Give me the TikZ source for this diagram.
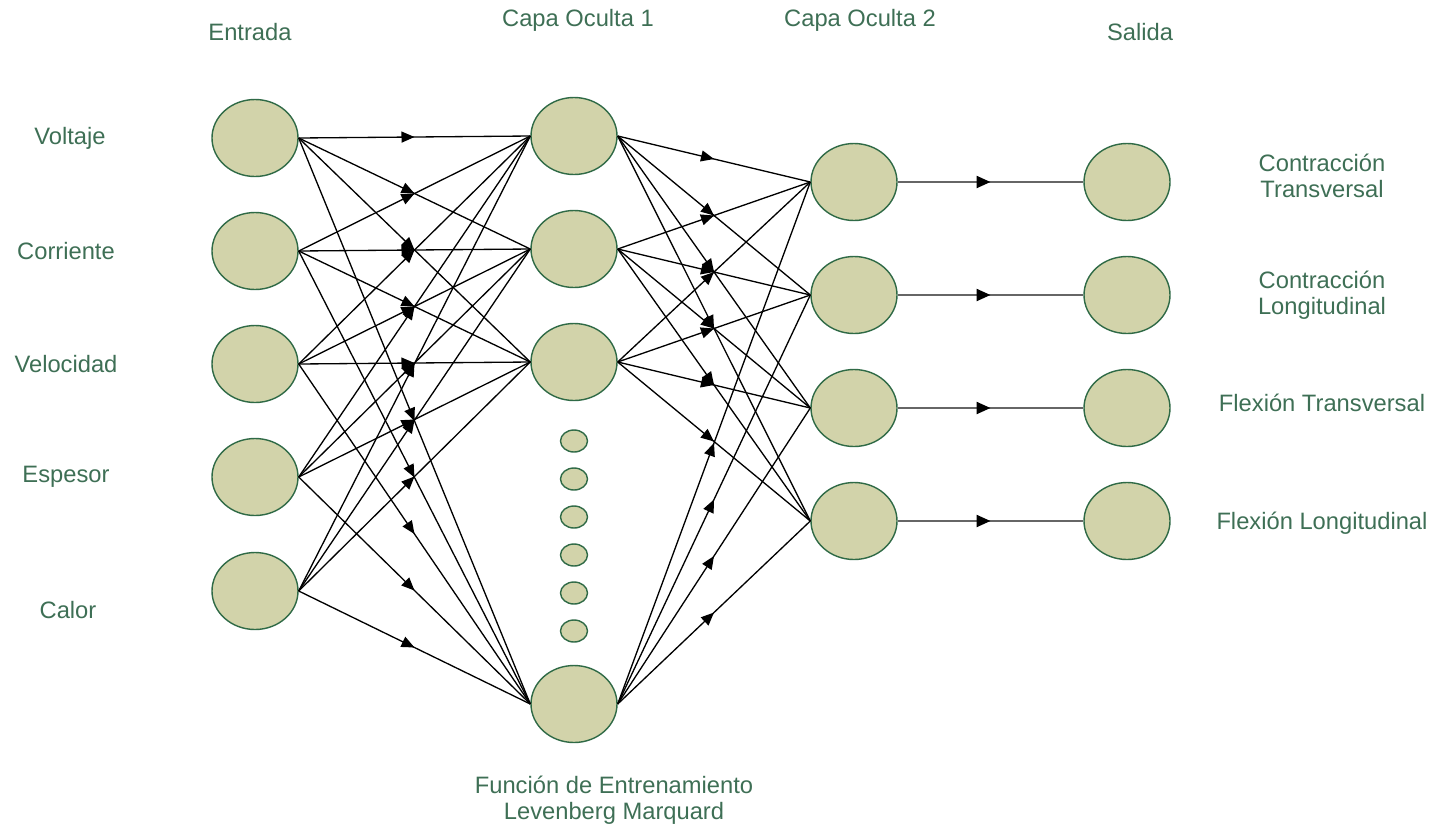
\documentclass[tikz,border=0pt]{standalone}
\usepackage{fontspec}
\setmainfont{Liberation Sans}
\usetikzlibrary{arrows.meta,shapes.geometric,decorations.markings}

\definecolor{nodefill}{HTML}{D2D3AA}
\definecolor{nodeline}{HTML}{2F6A46}
\definecolor{tagtext}{HTML}{3E6F55}

\begin{document}
\begin{tikzpicture}[
    x=0.2mm, y=-0.2mm,
    neuron/.style={ellipse,draw=nodeline,fill=nodefill,line width=0.8pt,inner sep=0pt,minimum width=17.2mm,minimum height=15.4mm},
    minidot/.style={ellipse,draw=nodeline,fill=nodefill,line width=0.8pt,inner sep=0pt,minimum width=5.4mm,minimum height=4.4mm},
    tag/.style={text=tagtext,font=\fontsize{13.5}{15}\selectfont,align=center},
    link/.style={line width=0.75pt,postaction={decorate},
        decoration={markings,mark=at position 0.5 with {\arrow{Triangle[length=2.6mm,width=2.2mm]}}}},
    outlink/.style={draw=black!60,line width=1.3pt,postaction={decorate},
        decoration={markings,mark=at position 0.5 with {\arrow[black]{Triangle[length=2.8mm,width=2.4mm]}}}}
]
\useasboundingbox (0,0) rectangle (1435,829);

% layer titles
\node[tag] (tIn) at (250,32) {Entrada};
\node[tag] (tHA) at (578,20) {Capa Oculta 1};
\node[tag] (tHB) at (860,20) {Capa Oculta 2};
\node[tag] (tOut) at (1140,32) {Salida};

% input layer
\node[neuron] (in1) at (255,138) {};
\node[neuron] (in2) at (255,251) {};
\node[neuron] (in3) at (255,364) {};
\node[neuron] (in4) at (255,477) {};
\node[neuron] (in5) at (255,591) {};

\node[tag] (lIn1) at (70,138) {Voltaje};
\node[tag] (lIn2) at (66,251) {Corriente};
\node[tag] (lIn3) at (66,364) {Velocidad};
\node[tag] (lIn4) at (66,477) {Espesor};
\node[tag] (lIn5) at (68,610) {Calor};

% hidden layer 1
\node[neuron] (hA1) at (574,136) {};
\node[neuron] (hA2) at (574,249) {};
\node[neuron] (hA3) at (574,362) {};
\node[neuron] (hAn) at (574,704) {};
\node[minidot] (d1) at (574,441) {};
\node[minidot] (d2) at (574,479) {};
\node[minidot] (d3) at (574,517) {};
\node[minidot] (d4) at (574,555) {};
\node[minidot] (d5) at (574,593) {};
\node[minidot] (d6) at (574,631) {};

\node[tag] (train) at (614,800) {Función de Entrenamiento\\Levenberg Marquard};

% hidden layer 2
\node[neuron] (hB1) at (854,182) {};
\node[neuron] (hB2) at (854,295) {};
\node[neuron] (hB3) at (854,408) {};
\node[neuron] (hB4) at (854,521) {};

% output layer
\node[neuron] (out1) at (1127,182) {};
\node[neuron] (out2) at (1127,295) {};
\node[neuron] (out3) at (1127,408) {};
\node[neuron] (out4) at (1127,521) {};

\node[tag] (lOut1) at (1322,176) {Contracción\\Transversal};
\node[tag] (lOut2) at (1322,295) {Contracción\\Longitudinal};
\node[tag] (lOut3) at (1322,403) {Flexión Transversal};
\node[tag] (lOut4) at (1322,523) {Flexión Longitudinal};

% connections
\foreach \i in {1,...,5}
  \foreach \j in {1,2,3,n}
    \draw[link] (in\i.east) -- (hA\j.west);
\foreach \i in {1,2,3,n}
  \foreach \j in {1,...,4}
    \draw[link] (hA\i.east) -- (hB\j.west);
\foreach \j in {1,...,4}
  \draw[outlink] (hB\j.east) -- (out\j.west);

\end{tikzpicture}
\end{document}
